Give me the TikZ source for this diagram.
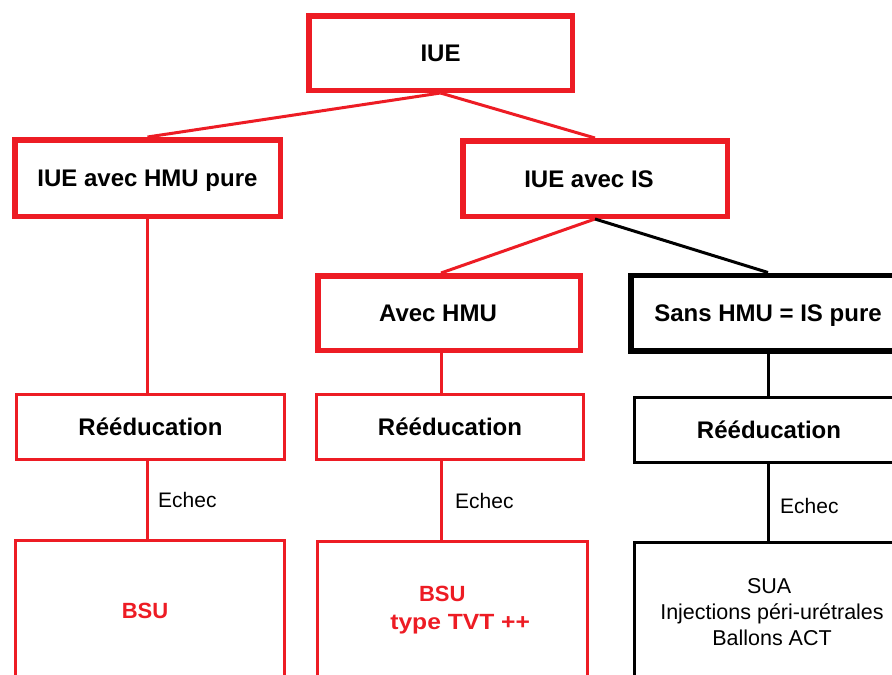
\documentclass[tikz,border=0pt]{standalone}
\usepackage{fontspec}
\usepackage{graphicx}
\setmainfont{Liberation Sans}
\definecolor{pred}{RGB}{237,28,36}
\begin{document}
\begin{tikzpicture}[x=1pt,y=-1pt,
  boxlbl/.style={font=\bfseries\fontsize{24}{28}\selectfont, inner sep=0pt, rectangle},
  oneline/.style={text height=17pt, text depth=0pt},
  thickred/.style={boxlbl, oneline, draw=pred, line width=5.5pt},
  thinred/.style={boxlbl, oneline, draw=pred, line width=3pt},
  thickblack/.style={boxlbl, oneline, draw=black, line width=5.5pt},
  thinblack/.style={boxlbl, oneline, draw=black, line width=3pt},
  tallred/.style={boxlbl, draw=pred, line width=3pt},
  tallblack/.style={boxlbl, draw=black, line width=3pt},
  link/.style={draw=pred, line width=3pt},
  blink/.style={draw=black, line width=3pt},
  echec/.style={font=\fontsize{21}{25}\selectfont, anchor=west, inner sep=0pt}
]
\useasboundingbox (0,0) rectangle (892,675);
\clip (0,0) rectangle (892,675);

% level 0
\node[thickred, minimum width=263.5pt, minimum height=74.5pt] (iue) at (440.5,53) {IUE};
% level 1
\node[thickred, minimum width=265.5pt, minimum height=76.5pt] (pure) at (147.5,178) {IUE avec HMU pure};
\node[thickred, minimum width=264.5pt, minimum height=75.5pt] (is) at (595,178.5) {IUE avec IS\hspace*{12pt}};
% level 2
\node[thickred, minimum width=262.5pt, minimum height=74.5pt] (avec) at (449,313) {Avec HMU\hspace*{22pt}};
\node[thickblack, minimum width=274.5pt, minimum height=75.5pt] (sans) at (768,313) {Sans HMU = IS pure};
% level 3
\node[thinred, minimum width=268pt, minimum height=65pt] (reed1) at (150.5,427) {Rééducation};
\node[thinred, minimum width=267pt, minimum height=65pt] (reed2) at (450,427) {Rééducation};
\node[thinblack, minimum width=269pt, minimum height=65pt] (reed3) at (769,430) {Rééducation};
% level 4
\node[thinred, text=pred, font=\bfseries\fontsize{22}{26}\selectfont, minimum width=269pt, minimum height=139pt] (bsu) at (150,610) {BSU\hspace*{10pt}};
\node[tallred, text=pred, align=center, minimum width=270pt, minimum height=137pt,
      font=\bfseries\fontsize{22}{28}\selectfont] (tvt) at (452,610)
      {\makebox[66pt][l]{BSU}\\ \makebox[156pt][r]{\scalebox{1.12}[1]{type TVT ++}}};
\node[tallblack, align=center, minimum width=275pt, minimum height=139pt,
      font=\fontsize{21.5}{26}\selectfont] (sua) at (772,612)
      {\makebox[50pt][l]{SUA}\\ Injections péri-urétrales\\ Ballons ACT};

\coordinate (mx) at (441,0);

% connectors
\draw[link] (iue.south) -- (pure.north);
\draw[link] (iue.south) -- (is.north);
\draw[link] (is.south) -- (avec.north -| mx);
\draw[blink] (is.south) -- (sans.north);

\draw[link] (pure.south) -- (pure.south |- reed1.north);
\draw[link] (avec.south -| mx) -- (reed2.north -| mx);
\draw[blink] (sans.south) -- (sans.south |- reed3.north);

\draw[link] (reed1.south -| pure.south) -- (bsu.north -| pure.south);
\draw[link] (reed2.south -| mx) -- (tvt.north -| mx);
\draw[blink] (reed3.south -| sans.south) -- (sua.north -| sans.south);

% labels
\node[echec] (e1) at (158,500) {Echec};
\node[echec] (e2) at (455,501) {Echec};
\node[echec] (e3) at (780,506) {Echec};
\end{tikzpicture}
\end{document}
